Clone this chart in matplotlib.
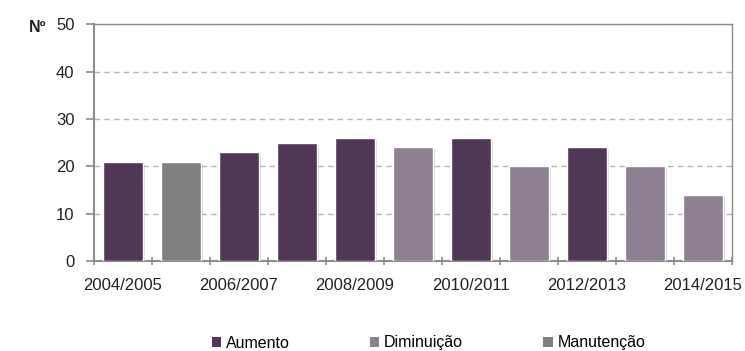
import matplotlib
matplotlib.use("Agg")
import matplotlib.pyplot as plt
import matplotlib.patheffects as pe
from matplotlib.patches import Patch
import numpy as np

plt.rcParams['font.family'] = ['Liberation Sans', 'DejaVu Sans']

years = ["2004/2005", "2005/2006", "2006/2007", "2007/2008", "2008/2009", "2009/2010",
         "2010/2011", "2011/2012", "2012/2013", "2013/2014", "2014/2015"]
values = [21, 21, 23, 25, 26, 24, 26, 20, 24, 20, 14]
status = ["Aumento", "Manutenção", "Aumento", "Aumento", "Aumento", "Diminuição",
          "Aumento", "Diminuição", "Aumento", "Diminuição", "Diminuição"]
legend_order = ["Aumento", "Diminuição", "Manutenção"]
colors = {"Aumento": "#503756", "Diminuição": "#8E7F92", "Manutenção": "#808080"}

fig = plt.figure(figsize=(7.45, 3.51), dpi=100)
ax = fig.add_axes([0.1262, 0.2564, 0.9826 - 0.1262, 0.9308 - 0.2564])

x = np.arange(len(years))
bars = ax.bar(x, values, width=0.68, color=[colors[s] for s in status],
              edgecolor="white", linewidth=1.0, zorder=3)
for b in bars:
    b.set_path_effects([pe.SimplePatchShadow(offset=(1.5, -1.5), shadow_rgbFace="#bbbbbb", alpha=0.6),
                        pe.Normal()])

ax.set_xlim(-0.5, len(years) - 0.5)
ax.set_ylim(0, 50)
ax.set_yticks([0, 10, 20, 30, 40, 50])
ax.yaxis.grid(True, linestyle=(0, (4, 3)), color="#b5b5b5", linewidth=1.0, zorder=0)

# category boundary ticks on x; labels every other category
ax.set_xticks(np.arange(-0.5, len(years) + 0.5, 1.0))
ax.set_xticklabels([])
ax.set_xticks(x[::2], minor=True)
ax.set_xticklabels([years[i] for i in x[::2]], minor=True)
ax.tick_params(axis='x', which='major', length=6, width=1.2, color="#8c8c8c", direction='inout')
ax.tick_params(axis='x', which='minor', length=0, pad=12, labelsize=12, labelcolor="#222222")
ax.tick_params(axis='y', length=6, width=1.2, color="#8c8c8c", pad=8, labelsize=12, labelcolor="#222222")

for side in ["left", "bottom"]:
    ax.spines[side].set_color("#8c8c8c")
    ax.spines[side].set_linewidth(1.5)
for side in ["top", "right"]:
    ax.spines[side].set_color("#8c8c8c")
    ax.spines[side].set_linewidth(1.0)

fig.text(38 / 745, 1 - 27 / 351, "Nº", fontsize=11.5, fontweight="bold", ha="center", va="center",
         color="#222222")

handles = [Patch(facecolor=colors[k], edgecolor="none") for k in legend_order]
fig.legend(handles, legend_order, loc="center", bbox_to_anchor=(0.575, 1 - 343 / 351), ncol=3,
           frameon=False, fontsize=11.5, handlelength=0.6, handleheight=0.6, handletextpad=0.3,
           columnspacing=5.0)

fig.savefig("out.png", dpi=100)
